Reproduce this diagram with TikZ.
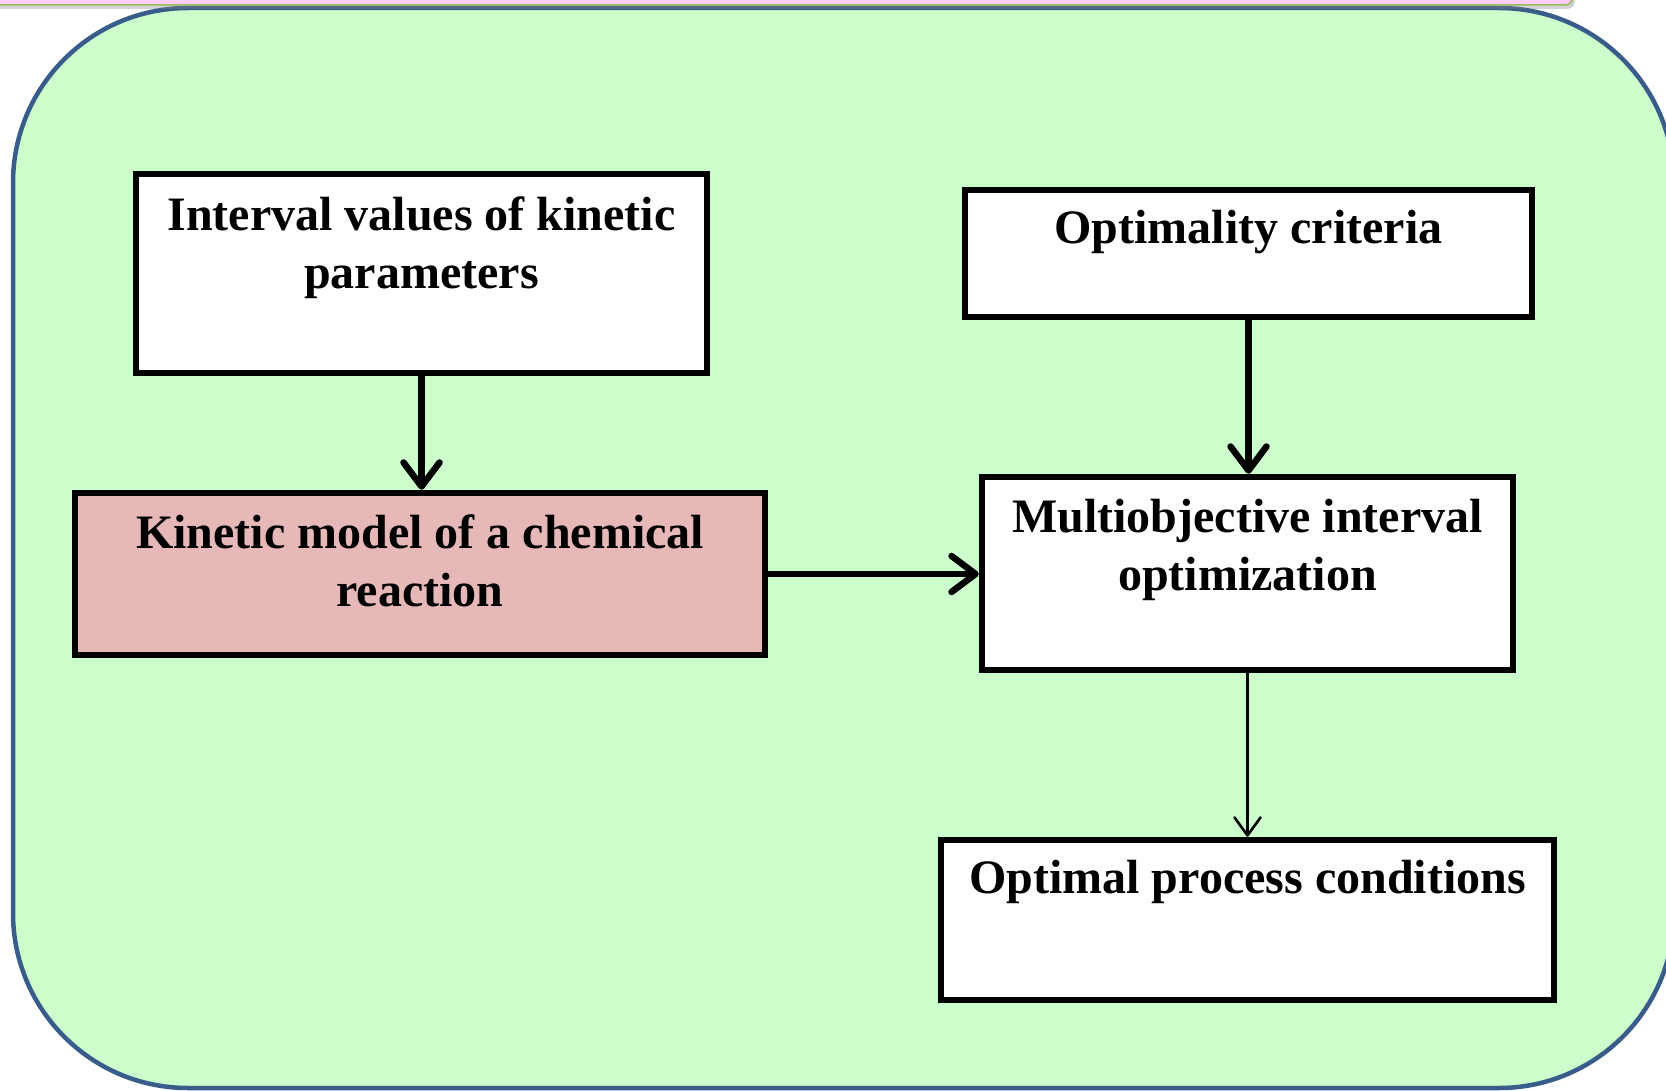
\documentclass[tikz,border=0pt]{standalone}
\usepackage{fontspec}
\setmainfont{Liberation Serif}
\usetikzlibrary{arrows.meta,shadows}
\definecolor{bggreen}{RGB}{204,255,204}
\definecolor{bgblue}{RGB}{56,93,138}
\definecolor{kinpink}{RGB}{230,184,183}
\definecolor{toppink}{RGB}{255,204,255}
\definecolor{topolive}{RGB}{155,187,89}
\tikzset{
  flowbox/.style={draw=black, line width=6.5pt, fill=white, inner sep=0pt},
  boxtext/.style={font=\fontsize{48}{58}\selectfont\bfseries, anchor=base, inner sep=0pt},
  thickarrow/.style={line width=6.5pt, -{Straight Barb[length=24pt,width=36pt,round]}},
  thinarrow/.style={line width=2.6pt, -{Straight Barb[length=18pt,width=26pt,round]}}
}
\begin{document}
\begin{tikzpicture}[x=1pt,y=-1pt]
\useasboundingbox (0,0) rectangle (1666,1091);
\clip (0,0) rectangle (1666,1091);
% background panel
\draw[bgblue, line width=4.5pt, fill=bggreen, rounded corners=175pt] (13,8) rectangle (1674,1088);
% top pink strip
\draw[topolive, line width=1.5pt, fill=toppink, rounded corners=8pt,
      drop shadow={shadow xshift=2pt, shadow yshift=-4pt, opacity=0.35}] (-20,-40) rectangle (1573,5);
% boxes
\node[flowbox, minimum width=571pt, minimum height=199pt] (b1) at (421.5,273.5) {};
\node[flowbox, fill=kinpink, minimum width=690pt, minimum height=162pt] (b2) at (420,574) {};
\node[flowbox, minimum width=567pt, minimum height=127pt] (b3) at (1248.5,253.5) {};
\node[flowbox, minimum width=531pt, minimum height=193pt] (b4) at (1247.5,573.5) {};
\node[flowbox, minimum width=613pt, minimum height=160pt] (b5) at (1247.5,920) {};
% texts
\node[boxtext] (t1a) at (421.5,231) {Interval values of kinetic};
\node[boxtext] (t1b) at (421.5,289) {parameters};
\node[boxtext] (t2a) at (420,548) {Kinetic model of a chemical};
\node[boxtext] (t2b) at (420,606) {reaction};
\node[boxtext] (t3a) at (1248.5,244) {Optimality criteria};
\node[boxtext] (t4a) at (1247.5,532) {Multiobjective interval};
\node[boxtext] (t4b) at (1247.5,590) {optimization};
\node[boxtext] (t5a) at (1247.5,893) {Optimal process conditions};
% connectors
\draw[thickarrow] (b1.south) -- (b1.south |- b2.north);
\draw[thickarrow] (b3.south) -- (b3.south |- b4.north);
\draw[thickarrow] (b2.east) -- (b4.west |- b2.east);
\draw[thinarrow] (b4.south) -- (b4.south |- b5.north);
\end{tikzpicture}
\end{document}
